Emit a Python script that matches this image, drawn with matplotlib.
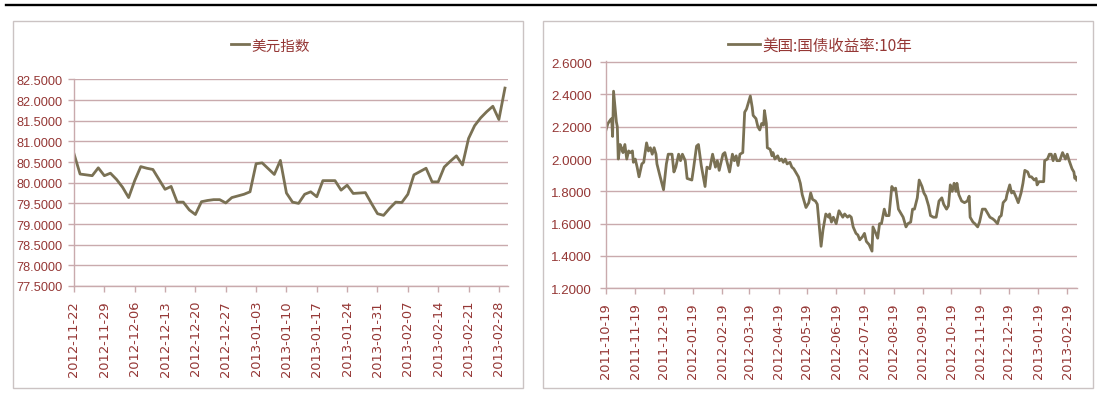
import matplotlib
matplotlib.use('Agg')
import matplotlib.pyplot as plt
from matplotlib.lines import Line2D
from matplotlib.patches import Rectangle
import numpy as np
import pandas as pd

# ---- data: US dollar index (business days) ----
usd_start = '2012-11-22'
usd_label = '美元指数'
usd_vals = [80.70, 80.21, 80.19, 80.17, 80.36, 80.17, 80.23, 80.08, 79.89, 79.64,
            80.05, 80.39, 80.35, 80.32, 80.08, 79.84, 79.91, 79.53, 79.53, 79.34,
            79.23, 79.54, 79.57, 79.59, 79.59, 79.51, 79.64, 79.68, 79.72, 79.78,
            80.46, 80.48, 80.34, 80.20, 80.54, 79.75, 79.53, 79.50, 79.72, 79.78,
            79.66, 80.05, 80.05, 80.05, 79.82, 79.94, 79.74, 79.75, 79.76, 79.50,
            79.25, 79.21, 79.38, 79.53, 79.52, 79.72, 80.19, 80.27, 80.35, 80.02,
            80.02, 80.38, 80.52, 80.65, 80.43, 81.07, 81.38, 81.57, 81.72, 81.85,
            81.53, 82.29]
usd_yticks = [77.5, 78.0, 78.5, 79.0, 79.5, 80.0, 80.5, 81.0, 81.5, 82.0, 82.5]

# ---- data: US 10y treasury yield (days after start) ----
yield_start = '2011-10-19'
yield_label = '美国:国债收益率:10年'
yield_days = [0, 2, 5, 6, 7, 8, 11, 12, 13, 15,
              17, 18, 20, 22, 24, 26, 28, 29, 31, 33,
              35, 38, 40, 43, 45, 47, 49, 51, 53, 54,
              57, 61, 64, 66, 70, 72, 74, 77, 79, 81,
              84, 86, 91, 93, 96, 98, 101, 105, 107, 110,
              113, 116, 118, 120, 124, 126, 128, 131, 134, 136,
              138, 140, 142, 145, 147, 149, 153, 155, 156, 159,
              161, 163, 165, 167, 168, 170, 171, 174, 176, 177,
              179, 182, 184, 186, 188, 190, 192, 195, 197, 199,
              201, 204, 206, 208, 212, 215, 217, 219, 222, 224,
              228, 230, 233, 236, 237, 239, 241, 244, 247, 251,
              253, 256, 258, 260, 262, 265, 267, 269, 272, 274,
              276, 279, 282, 283, 286, 288, 290, 292, 295, 297,
              300, 303, 305, 307, 310, 312, 315, 318, 320, 323,
              325, 327, 330, 332, 335, 337, 339, 342, 344, 347,
              350, 353, 356, 358, 361, 363, 365, 367, 369, 371,
              372, 374, 377, 380, 383, 385, 386, 389, 391, 394,
              396, 399, 402, 404, 407, 410, 412, 415, 417, 419,
              421, 424, 425, 428, 430, 432, 435, 437, 440, 442,
              444, 447, 449, 451, 454, 456, 457, 459, 462, 464,
              465, 468, 470, 472, 474, 476, 478, 481, 484, 487,
              489, 491, 494, 496, 497, 498, 499]
yield_vals = [2.18, 2.22, 2.245, 2.25, 2.14, 2.42, 2.23, 2.20, 2.00, 2.09,
              2.06, 2.04, 2.09, 2.00, 2.05, 2.04, 2.05, 1.98, 2.00, 1.95,
              1.89, 1.97, 1.98, 2.10, 2.05, 2.07, 2.03, 2.07, 2.03, 1.97,
              1.90, 1.81, 1.97, 2.03, 2.03, 1.92, 1.95, 2.03, 1.99, 2.03,
              1.99, 1.88, 1.87, 1.95, 2.08, 2.09, 1.96, 1.83, 1.95, 1.94,
              2.03, 1.95, 1.99, 1.93, 2.03, 2.04, 1.99, 1.92, 2.03, 1.99,
              2.02, 1.96, 2.03, 2.04, 2.29, 2.31, 2.39, 2.32, 2.27, 2.25,
              2.20, 2.18, 2.22, 2.21, 2.30, 2.22, 2.07, 2.06, 2.02, 2.04,
              2.00, 2.02, 1.99, 2.00, 1.98, 2.00, 1.97, 1.98, 1.95, 1.94,
              1.92, 1.89, 1.85, 1.78, 1.70, 1.73, 1.79, 1.75, 1.74, 1.72,
              1.46, 1.56, 1.66, 1.64, 1.66, 1.61, 1.64, 1.60, 1.68, 1.64,
              1.66, 1.64, 1.65, 1.64, 1.58, 1.54, 1.53, 1.50, 1.52, 1.54,
              1.49, 1.47, 1.43, 1.58, 1.54, 1.51, 1.60, 1.60, 1.69, 1.65,
              1.65, 1.83, 1.81, 1.82, 1.69, 1.67, 1.64, 1.58, 1.60, 1.61,
              1.69, 1.69, 1.76, 1.87, 1.83, 1.79, 1.77, 1.71, 1.65, 1.64,
              1.64, 1.74, 1.76, 1.72, 1.69, 1.71, 1.84, 1.80, 1.85, 1.80,
              1.85, 1.78, 1.74, 1.73, 1.74, 1.77, 1.64, 1.61, 1.60, 1.58,
              1.61, 1.69, 1.69, 1.67, 1.64, 1.63, 1.62, 1.60, 1.64, 1.65,
              1.73, 1.75, 1.78, 1.84, 1.79, 1.80, 1.76, 1.73, 1.79, 1.85,
              1.93, 1.92, 1.89, 1.89, 1.87, 1.88, 1.84, 1.86, 1.86, 1.86,
              1.99, 2.00, 2.03, 2.03, 1.99, 2.03, 1.99, 1.99, 2.04, 2.00,
              2.03, 1.99, 1.94, 1.92, 1.88, 1.89, 1.87]
yield_yticks = [1.2, 1.4, 1.6, 1.8, 2.0, 2.2, 2.4, 2.6]

# ---- style ----
line_c = '#7a7154'
grid_c = '#c9aaad'
txt_c = '#953735'
box_c = '#cbc3c3'
cjk = ['Noto Sans CJK SC', 'DejaVu Sans']

W, H = 1097, 402
fig = plt.figure(figsize=(W / 100, H / 100), dpi=100)


def fx(px):
    return px / W


def fy(py):
    return 1 - py / H


fig.add_artist(Line2D([fx(6), 1], [fy(6), fy(6)], color='black', lw=1.7))
fig.add_artist(Rectangle((fx(13), fy(389)), 510 / W, 367 / H, fill=False, ec=box_c, lw=1.0))
fig.add_artist(Rectangle((fx(543), fy(389)), 550 / W, 367 / H, fill=False, ec=box_c, lw=1.0))


def style(ax):
    for s in ['top', 'right']:
        ax.spines[s].set_visible(False)
    for s in ['left', 'bottom']:
        ax.spines[s].set_color(grid_c)
        ax.spines[s].set_linewidth(1.0)
    ax.grid(axis='y', color=grid_c, lw=1.0)
    ax.set_axisbelow(True)
    ax.tick_params(axis='both', colors=grid_c, labelcolor=txt_c, length=4, width=1, direction='out')
    ax.tick_params(axis='y', pad=4)
    ax.tick_params(axis='x', pad=6)


# ---- left: dollar index ----
ax1 = fig.add_axes([fx(74), fy(287), 434 / W, 207 / H])
usd_dates = pd.bdate_range(usd_start, periods=len(usd_vals))
ax1.plot(range(len(usd_vals)), usd_vals, color=line_c, lw=2.0, label=usd_label)
ax1.set_xlim(0, 71.5)
ax1.set_ylim(77.5, 82.51)
ax1.set_yticks(usd_yticks)
ax1.set_yticklabels([f'{v:.4f}' for v in usd_yticks], family='Liberation Sans', fontsize=9.2)
xt = list(range(0, len(usd_vals), 5))
ax1.set_xticks(xt)
ax1.set_xticklabels([usd_dates[i].strftime('%Y-%m-%d') for i in xt], rotation=90,
                    family='DejaVu Sans', fontsize=9.4)
style(ax1)
ax1.legend(loc='center', bbox_to_anchor=(fx(270), fy(46.5)), bbox_transform=fig.transFigure,
           frameon=False, handlelength=1.25, handletextpad=0.15, borderpad=0,
           prop={'family': cjk, 'size': 10.5}, labelcolor=txt_c)

# ---- right: 10y yield ----
ax2 = fig.add_axes([fx(606), fy(289.3), 471 / W, 227 / H])
t0 = pd.Timestamp(yield_start)
yield_dates = t0 + pd.to_timedelta(yield_days, unit='D')
ax2.plot(yield_dates, yield_vals, color=line_c, lw=2.0, label=yield_label)
ax2.set_xlim(t0, t0 + pd.Timedelta(days=499.3))
ax2.set_ylim(1.2, 2.605)
ax2.set_yticks(yield_yticks)
ax2.set_yticklabels([f'{v:.4f}' for v in yield_yticks], family='Liberation Sans', fontsize=9.6)
mt = pd.date_range('2011-10-01', '2013-02-01', freq='MS') + pd.Timedelta(days=18)
ax2.set_xticks(mt)
ax2.set_xticklabels([d.strftime('%Y-%m-%d') for d in mt], rotation=90,
                    family='DejaVu Sans', fontsize=9.4)
style(ax2)
ax2.tick_params(axis='y', pad=6)
ax2.legend(loc='center', bbox_to_anchor=(fx(820), fy(46)), bbox_transform=fig.transFigure,
           frameon=False, handlelength=2.1, handletextpad=0.15, borderpad=0,
           prop={'family': cjk, 'size': 11.2}, labelcolor=txt_c)

fig.savefig('out.png', dpi=100)
